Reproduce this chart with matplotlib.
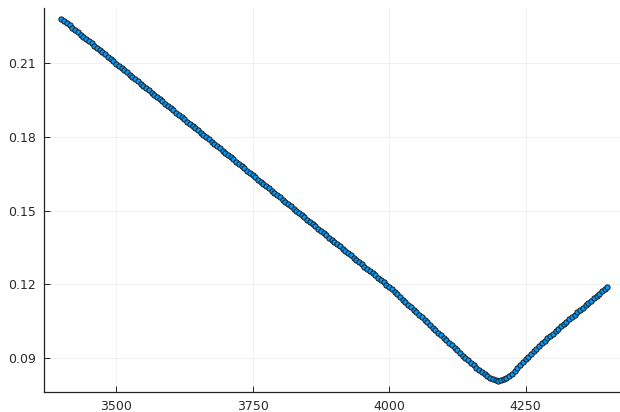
"""Scatter of the sampled curve, Plots.jl-like styling (thin grid, inward ticks)."""
import numpy as np
import matplotlib
matplotlib.use("Agg")
import matplotlib.pyplot as plt

# sample grid: 3400 .. 4400 in steps of 5
x_start, x_stop, x_step = 3400, 4400, 5

# 3400 .. 4000
y_left = [
    0.2280, 0.2271, 0.2262, 0.2253, 0.2244, 0.2235, 0.2226, 0.2216, 0.2207, 0.2198,
    0.2189, 0.2180, 0.2171, 0.2162, 0.2153, 0.2144, 0.2135, 0.2126, 0.2117, 0.2108,
    0.2098, 0.2089, 0.2080, 0.2071, 0.2062, 0.2053, 0.2044, 0.2035, 0.2026, 0.2017,
    0.2008, 0.1999, 0.1989, 0.1980, 0.1971, 0.1962, 0.1953, 0.1944, 0.1935, 0.1926,
    0.1917, 0.1908, 0.1899, 0.1890, 0.1880, 0.1871, 0.1862, 0.1853, 0.1844, 0.1835,
    0.1826, 0.1817, 0.1808, 0.1799, 0.1790, 0.1781, 0.1772, 0.1762, 0.1753, 0.1744,
    0.1735, 0.1726, 0.1717, 0.1708, 0.1699, 0.1690, 0.1681, 0.1672, 0.1663, 0.1653,
    0.1644, 0.1635, 0.1626, 0.1617, 0.1608, 0.1599, 0.1590, 0.1581, 0.1572, 0.1563,
    0.1554, 0.1545, 0.1535, 0.1526, 0.1517, 0.1508, 0.1499, 0.1490, 0.1481, 0.1472,
    0.1463, 0.1454, 0.1445, 0.1436, 0.1426, 0.1417, 0.1408, 0.1399, 0.1390, 0.1381,
    0.1372, 0.1363, 0.1354, 0.1345, 0.1336, 0.1327, 0.1318, 0.1308, 0.1299, 0.1290,
    0.1281, 0.1272, 0.1263, 0.1254, 0.1245, 0.1236, 0.1227, 0.1218, 0.1209, 0.1199,
    0.1190,
]
# 4005 .. 4140
y_descent = [
    0.1180, 0.1169, 0.1159, 0.1149, 0.1138, 0.1128, 0.1118, 0.1107, 0.1097, 0.1086,
    0.1076, 0.1066, 0.1055, 0.1045, 0.1035, 0.1024, 0.1014, 0.1004, 0.0993, 0.0983,
    0.0973, 0.0962, 0.0952, 0.0941, 0.0931, 0.0921, 0.0910, 0.0901,
]
# 4145 .. 4280 (around the minimum)
y_valley = [
    0.0891, 0.0881, 0.0871, 0.0861, 0.0852, 0.0843, 0.0835, 0.0827, 0.0820, 0.0814,
    0.0810, 0.0808, 0.0809, 0.0813, 0.0819, 0.0827, 0.0837, 0.0848, 0.0859, 0.0871,
    0.0883, 0.0895, 0.0906, 0.0917, 0.0928, 0.0939, 0.0950, 0.0961,
]
# 4285 .. 4400
y_right = [
    0.0971, 0.0981, 0.0991, 0.1000, 0.1010, 0.1019, 0.1029, 0.1038, 0.1048, 0.1057,
    0.1067, 0.1076, 0.1086, 0.1095, 0.1105, 0.1114, 0.1124, 0.1134, 0.1143, 0.1153,
    0.1162, 0.1172, 0.1181, 0.1191,
]

x_ticks = [3500, 3750, 4000, 4250]
y_ticks = [0.09, 0.12, 0.15, 0.18, 0.21]
y_ticklabels = ["0.09", "0.12", "0.15", "0.18", "0.21"]


def main():
    x = np.arange(x_start, x_stop + 1, x_step)
    y = np.array(y_left + y_descent + y_valley + y_right)
    assert len(x) == len(y)

    fig = plt.figure(figsize=(6.2, 4.12), dpi=100)
    ax = fig.add_axes([0.071, 0.0485, 0.929, 0.932])

    ax.plot(x, y, ls="none", marker="o", ms=3.8, mfc="#009AFA",
            mec="#1a1a1a", mew=0.7)

    ax.set_xlim(3368, 4423)
    ax.set_ylim(0.0762, 0.2324)
    ax.set_xticks(x_ticks)
    ax.set_yticks(y_ticks)
    ax.set_yticklabels(y_ticklabels)

    ax.grid(True, color="black", alpha=0.06, lw=0.6)
    ax.set_axisbelow(True)
    for side in ("top", "right"):
        ax.spines[side].set_visible(False)
    for side in ("left", "bottom"):
        ax.spines[side].set_color("#222222")
        ax.spines[side].set_linewidth(0.9)
    ax.tick_params(direction="in", length=4, width=0.7, color="#222222",
                   labelsize=9, labelcolor="#2a2a2a", pad=6)

    fig.savefig("out.png", dpi=100)


if __name__ == "__main__":
    main()
